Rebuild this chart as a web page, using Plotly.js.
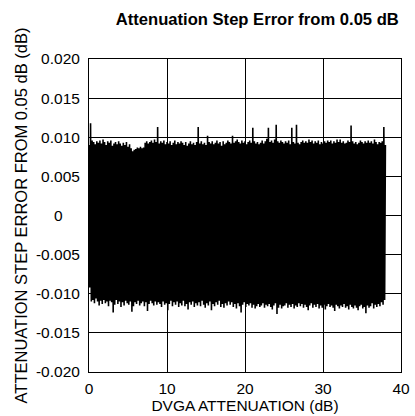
<!DOCTYPE html>
<html>
<head>
<meta charset="utf-8">
<script src="https://cdn.plot.ly/plotly-3.0.1.min.js"></script>
<style>html,body{margin:0;padding:0;background:#fff;}#chart{width:415px;height:416px;}</style>
</head>
<body>
<div id="chart"></div>
<script>
// Attenuation sweep: start 0 dB, one reading every 0.1 dB
const attenStart = 0;
const attenStep = 0.1;
// Step error from 0.05 dB (dB)
const stepError = [
0.0090,-0.0092,0.0118,-0.0110,0.0096,-0.0108,0.0094,-0.0112,0.0091,-0.0106,
0.0095,-0.0110,0.0093,-0.0115,0.0096,-0.0109,0.0092,-0.0113,0.0097,-0.0108,
0.0094,-0.0112,0.0090,-0.0110,0.0095,-0.0116,0.0093,-0.0109,0.0096,-0.0111,
0.0089,-0.0124,0.0092,-0.0114,0.0094,-0.0108,0.0091,-0.0113,0.0095,-0.0110,
0.0092,-0.0117,0.0089,-0.0111,0.0093,-0.0115,0.0090,-0.0109,0.0094,-0.0112,
0.0088,-0.0114,0.0091,-0.0110,0.0086,-0.0123,0.0082,-0.0116,0.0084,-0.0111,
0.0085,-0.0113,0.0087,-0.0109,0.0086,-0.0115,0.0088,-0.0112,0.0086,-0.0110,
0.0087,-0.0116,0.0093,-0.0111,0.0095,-0.0122,0.0092,-0.0113,0.0094,-0.0109,
0.0096,-0.0112,0.0093,-0.0115,0.0097,-0.0110,0.0094,-0.0114,0.0113,-0.0111,
0.0092,-0.0113,0.0095,-0.0117,0.0093,-0.0110,0.0096,-0.0114,0.0091,-0.0112,
0.0094,-0.0121,0.0092,-0.0113,0.0095,-0.0109,0.0090,-0.0116,0.0093,-0.0111,
0.0096,-0.0114,0.0091,-0.0110,0.0094,-0.0117,0.0092,-0.0112,0.0095,-0.0115,
0.0093,-0.0109,0.0090,-0.0116,0.0094,-0.0113,0.0089,-0.0120,0.0092,-0.0111,
0.0095,-0.0114,0.0091,-0.0110,0.0093,-0.0117,0.0090,-0.0112,0.0094,-0.0115,
0.0113,-0.0111,0.0092,-0.0116,0.0095,-0.0109,0.0091,-0.0114,0.0093,-0.0118,
0.0090,-0.0112,0.0102,-0.0115,0.0094,-0.0110,0.0092,-0.0121,0.0095,-0.0113,
0.0091,-0.0116,0.0093,-0.0111,0.0096,-0.0114,0.0092,-0.0109,0.0094,-0.0117,
0.0089,-0.0113,0.0095,-0.0118,0.0091,-0.0112,0.0093,-0.0115,0.0096,-0.0110,
0.0094,-0.0114,0.0092,-0.0111,0.0102,-0.0117,0.0093,-0.0113,0.0095,-0.0119,
0.0097,-0.0112,0.0094,-0.0116,0.0092,-0.0124,0.0096,-0.0114,0.0093,-0.0111,
0.0095,-0.0117,0.0091,-0.0113,0.0094,-0.0115,0.0096,-0.0112,0.0093,-0.0118,
0.0112,-0.0114,0.0095,-0.0119,0.0092,-0.0116,0.0094,-0.0113,0.0091,-0.0117,
0.0093,-0.0115,0.0096,-0.0112,0.0092,-0.0118,0.0095,-0.0114,0.0098,-0.0116,
0.0112,-0.0113,0.0094,-0.0117,0.0096,-0.0120,0.0093,-0.0115,0.0097,-0.0112,
0.0116,-0.0126,0.0095,-0.0118,0.0093,-0.0114,0.0096,-0.0119,0.0094,-0.0116,
0.0092,-0.0115,0.0095,-0.0112,0.0093,-0.0118,0.0096,-0.0114,0.0091,-0.0117,
0.0112,-0.0113,0.0094,-0.0119,0.0092,-0.0115,0.0116,-0.0117,0.0093,-0.0112,
0.0091,-0.0116,0.0094,-0.0113,0.0096,-0.0118,0.0093,-0.0114,0.0095,-0.0117,
0.0093,-0.0121,0.0097,-0.0115,0.0094,-0.0112,0.0096,-0.0118,0.0092,-0.0114,
0.0095,-0.0117,0.0093,-0.0113,0.0096,-0.0119,0.0091,-0.0115,0.0094,-0.0118,
0.0092,-0.0114,0.0095,-0.0120,0.0093,-0.0116,0.0096,-0.0113,0.0094,-0.0117,
0.0096,-0.0115,0.0092,-0.0118,0.0095,-0.0122,0.0093,-0.0114,0.0097,-0.0116,
0.0094,-0.0119,0.0097,-0.0115,0.0093,-0.0117,0.0095,-0.0113,0.0092,-0.0118,
0.0093,-0.0116,0.0096,-0.0120,0.0094,-0.0114,0.0115,-0.0117,0.0095,-0.0119,
0.0092,-0.0115,0.0094,-0.0118,0.0091,-0.0121,0.0093,-0.0116,0.0096,-0.0114,
0.0094,-0.0119,0.0092,-0.0117,0.0095,-0.0125,0.0093,-0.0115,0.0096,-0.0118,
0.0093,-0.0116,0.0095,-0.0112,0.0092,-0.0119,0.0097,-0.0114,0.0094,-0.0117,
0.0091,-0.0113,0.0094,-0.0116,0.0093,-0.0111,0.0095,-0.0114,0.0113,-0.0108,
0.0090
];
const xTickVals = [0, 10, 20, 30, 40];
const xTickText = ["0", "10", "20", "30", "40"];
const yTickVals = [-0.020, -0.015, -0.010, -0.005, 0, 0.005, 0.010, 0.015, 0.020];
const yTickText = ["-0.020", "-0.015", "-0.010", "-0.005", "0\u2007\u2007", "0.005", "0.010", "0.015", "0.020"];

const font = "Liberation Sans, Arial, sans-serif";
const trace = {
  type: "scatter",
  mode: "lines",
  x0: attenStart,
  dx: attenStep,
  y: stepError,
  line: {color: "#000", width: 1.6},
  hoverinfo: "skip"
};
const axisCommon = {
  showline: true, mirror: true, linecolor: "#000", linewidth: 1,
  showgrid: true, gridcolor: "#000", gridwidth: 1,
  zeroline: false, ticks: "", tickfont: {family: font, size: 15.5, color: "#000"}
};
const layout = {
  width: 415, height: 416,
  margin: {l: 89, r: 14, t: 59, b: 44},
  paper_bgcolor: "#fff", plot_bgcolor: "#fff",
  showlegend: false,
  title: {text: "<b>Attenuation Step Error from 0.05 dB</b>", font: {family: font, size: 16.6, color: "#000"},
          x: 0.62, xref: "container", xanchor: "center", y: 0.955, yref: "container", yanchor: "middle"},
  xaxis: Object.assign({}, axisCommon, {
    range: [0, 40], tickvals: xTickVals, ticktext: xTickText, ticklabelstandoff: 2,
    title: {text: "DVGA ATTENUATION (dB)", font: {family: font, size: 15.5, color: "#000"}, standoff: 0}
  }),
  yaxis: Object.assign({}, axisCommon, {
    range: [-0.020, 0.020], tickvals: yTickVals, ticktext: yTickText, ticklabelstandoff: 5,
    title: {text: "ATTENUATION STEP ERROR FROM 0.05 dB (dB)", font: {family: font, size: 16.5, color: "#000"}, standoff: 4}
  })
};
Plotly.newPlot("chart", [trace], layout, {staticPlot: true, displayModeBar: false});
</script>
</body>
</html>
